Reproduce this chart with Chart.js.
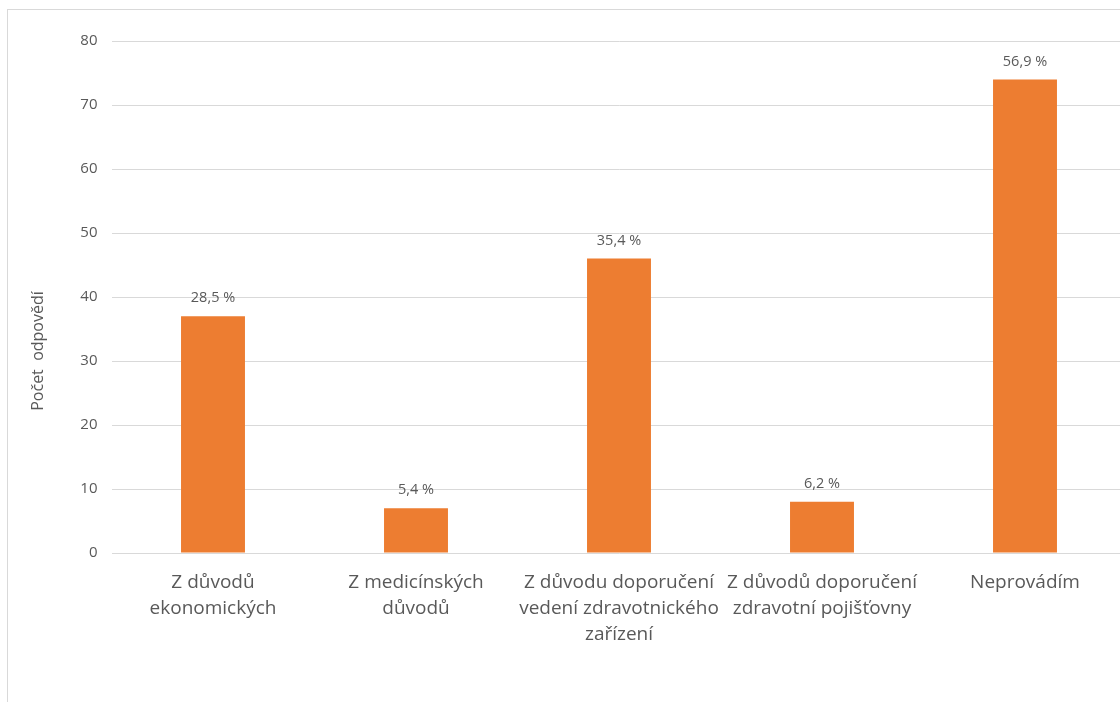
<!DOCTYPE html>
<html lang="cs">
<head>
<meta charset="utf-8">
<title>Počet odpovědí</title>
<script src="https://cdn.jsdelivr.net/npm/chart.js@4/dist/chart.umd.min.js"></script>
<style>
  html, body { margin: 0; padding: 0; background: #fff; overflow: hidden; }
  #frame {
    position: absolute; left: 7px; top: 9px; width: 1200px; height: 800px;
    border-left: 1px solid #d9d9d9; border-top: 1px solid #d9d9d9;
  }
  #wrap { position: absolute; left: 0; top: 0; width: 1140px; height: 702px; }
</style>
</head>
<body>
<div id="frame"></div>
<div id="wrap"><canvas id="chart"></canvas></div>
<script>
const categories = [
    ["Z důvodů", "ekonomických"],
    ["Z medicínských", "důvodů"],
    ["Z důvodu doporučení", "vedení zdravotnického", "zařízení"],
    ["Z důvodů doporučení", "zdravotní pojišťovny"],
    ["Neprovádím"]
];
const counts = [37, 7, 46, 8, 74];
const percentLabels = ["28,5 %", "5,4 %", "35,4 %", "6,2 %", "56,9 %"];
const yTicks = [0, 10, 20, 30, 40, 50, 60, 70, 80];

const textColor = "#595959";
const gridColor = "#d9d9d9";
const fontFamily = "'Open Sans', Lato, sans-serif";

// percentage above each bar
const barLabels = {
    id: "barLabels",
    afterDatasetsDraw(chart) {
        const ctx = chart.ctx;
        const meta = chart.getDatasetMeta(0);
        ctx.save();
        ctx.fillStyle = textColor;
        ctx.font = "14.5px " + fontFamily;
        ctx.textAlign = "center";
        ctx.textBaseline = "middle";
        meta.data.forEach((bar, i) => {
            ctx.fillText(percentLabels[i], bar.x, bar.y - 18);
        });
        ctx.restore();
    }
};

// vertical axis title, centred on the whole chart box
const axisTitle = {
    id: "axisTitle",
    afterDraw(chart) {
        const ctx = chart.ctx;
        ctx.save();
        ctx.translate(38, 351);
        ctx.rotate(-Math.PI / 2);
        ctx.fillStyle = textColor;
        ctx.font = "16px " + fontFamily;
        ctx.textAlign = "center";
        ctx.textBaseline = "middle";
        ctx.fillText("Počet  odpovědí", 0, 0);
        ctx.restore();
    }
};

new Chart(document.getElementById("chart"), {
    type: "bar",
    data: {
        labels: categories,
        datasets: [{
            data: counts,
            backgroundColor: "#ed7d31",
            categoryPercentage: 1,
            barPercentage: 0.315
        }]
    },
    options: {
        responsive: true,
        maintainAspectRatio: false,
        animation: false,
        layout: { padding: { left: 0, right: 13.5, top: 41, bottom: 0 } },
        plugins: {
            legend: { display: false },
            tooltip: { enabled: false }
        },
        scales: {
            x: {
                grid: { display: false },
                border: { display: false },
                ticks: {
                    color: textColor,
                    font: { family: fontFamily, size: 19, lineHeight: 1.38 },
                    padding: 8,
                    maxRotation: 0,
                    autoSkip: false
                },
                afterFit(scale) { scale.height = 149; }
            },
            y: {
                min: 0,
                max: 80,
                afterBuildTicks(scale) { scale.ticks = yTicks.map(v => ({ value: v })); },
                grid: { color: gridColor, lineWidth: 1, drawTicks: false },
                border: { display: false },
                ticks: {
                    color: textColor,
                    font: { family: fontFamily, size: 15 },
                    padding: 14
                },
                afterFit(scale) { scale.width = 111.5; }
            }
        }
    },
    plugins: [barLabels, axisTitle]
});
</script>
</body>
</html>
